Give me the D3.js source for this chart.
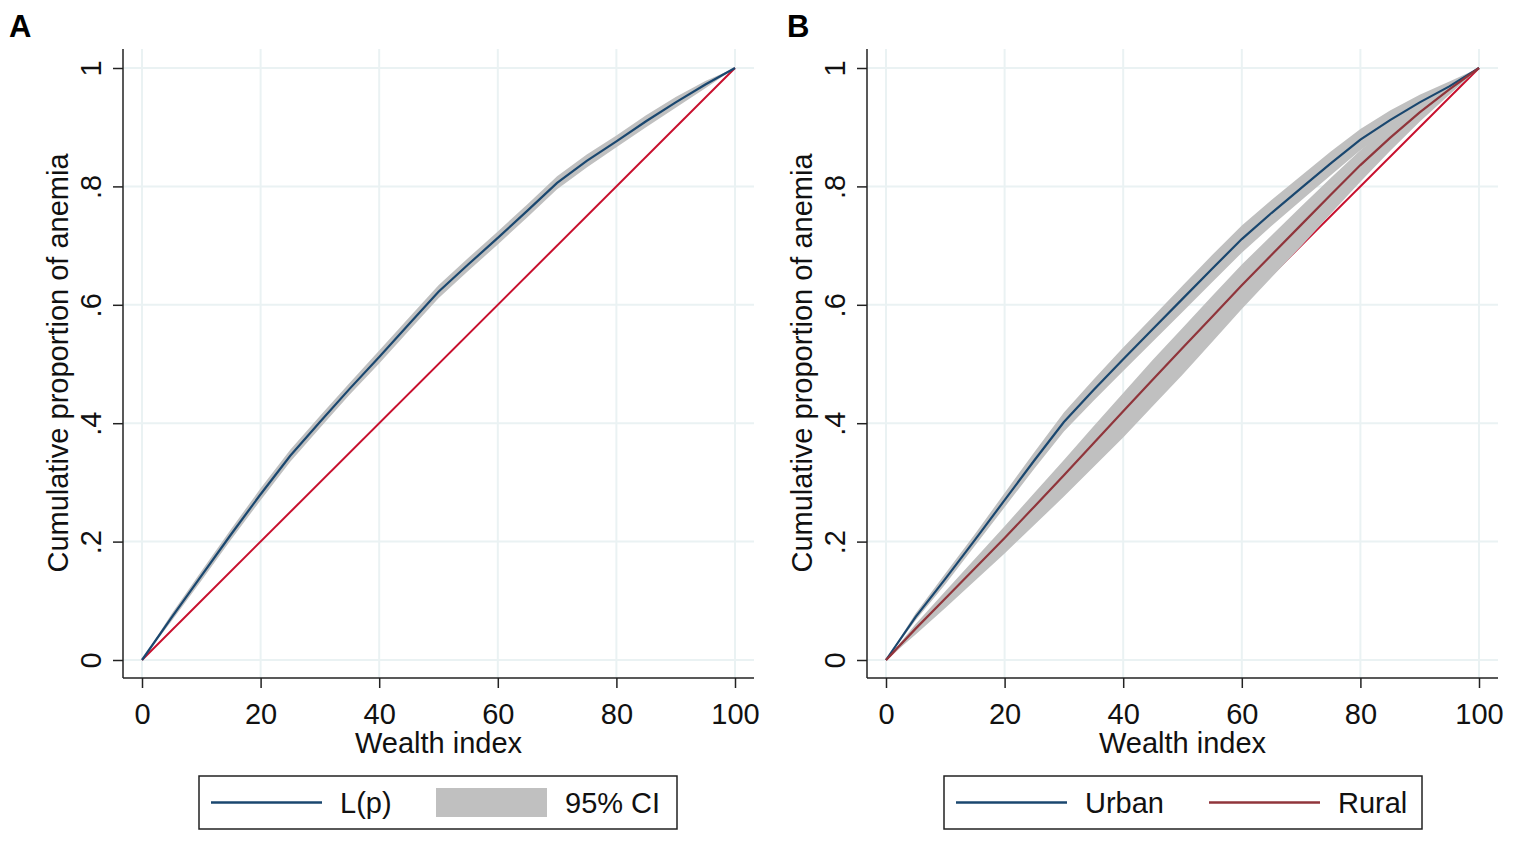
<!doctype html>
<html lang="en">
<head>
<meta charset="utf-8">
<title>Concentration curves of anemia by wealth index</title>
<style>
body { margin: 0; background: #fff; font-family: "Liberation Sans", Arial, sans-serif; }
</style>
</head>
<body>
<div id="chart"></div>
<script src="https://cdnjs.cloudflare.com/ajax/libs/d3/7.8.5/d3.min.js"></script>
<script>
// wealth index percentiles (x) shared by every curve
var wealth = [0, 5, 10, 15, 20, 25, 30, 35, 40, 45, 50, 55, 60, 65, 70, 75, 80, 85, 90, 95, 100];

// panel A: overall concentration curve L(p) and distance to its 95% CI bounds
var lpA     = [0, 0.072, 0.142, 0.212, 0.28, 0.345, 0.402, 0.458, 0.512, 0.567, 0.622, 0.668, 0.713, 0.759, 0.806, 0.843, 0.876, 0.91, 0.942, 0.972, 1];
var lpAUp   = [0, 0.006, 0.008, 0.009, 0.01, 0.01, 0.01, 0.01, 0.011, 0.011, 0.011, 0.011, 0.011, 0.011, 0.011, 0.011, 0.01, 0.01, 0.009, 0.006, 0];
var lpADown = [0, 0.006, 0.008, 0.009, 0.01, 0.01, 0.01, 0.01, 0.011, 0.011, 0.011, 0.011, 0.011, 0.011, 0.011, 0.011, 0.01, 0.01, 0.009, 0.006, 0];

// panel B: urban and rural curves with distance to CI bounds
var urban     = [0, 0.073, 0.137, 0.203, 0.27, 0.337, 0.402, 0.456, 0.508, 0.559, 0.61, 0.661, 0.711, 0.755, 0.797, 0.839, 0.879, 0.912, 0.942, 0.969, 1];
var urbanUp   = [0, 0.006, 0.009, 0.01, 0.012, 0.014, 0.016, 0.018, 0.02, 0.021, 0.022, 0.023, 0.023, 0.022, 0.021, 0.02, 0.018, 0.016, 0.013, 0.008, 0];
var urbanDown = [0, 0.006, 0.009, 0.01, 0.012, 0.014, 0.016, 0.018, 0.02, 0.021, 0.022, 0.023, 0.023, 0.022, 0.021, 0.02, 0.018, 0.016, 0.013, 0.008, 0];
var rural     = [0, 0.053, 0.104, 0.155, 0.206, 0.259, 0.312, 0.366, 0.42, 0.474, 0.527, 0.58, 0.633, 0.684, 0.735, 0.786, 0.836, 0.882, 0.925, 0.964, 1];
var ruralUp   = [0, 0.008, 0.012, 0.016, 0.02, 0.023, 0.026, 0.029, 0.031, 0.033, 0.034, 0.035, 0.035, 0.033, 0.031, 0.028, 0.025, 0.02, 0.015, 0.008, 0];
var ruralDown = [0, 0.01, 0.016, 0.021, 0.026, 0.031, 0.036, 0.04, 0.044, 0.045, 0.045, 0.043, 0.04, 0.038, 0.036, 0.032, 0.028, 0.022, 0.016, 0.009, 0];

var equality = [0, 1];
var equalityX = [0, 100];

var xTicks = [0, 20, 40, 60, 80, 100];
var yTicks = [0, 0.2, 0.4, 0.6, 0.8, 1];
var yTickLabels = ["0", ".2", ".4", ".6", ".8", "1"];

var navy = "#1a476f", maroon = "#90353b", red = "#c8102e", band = "#c0c0c0", grid = "#eaf2f3";

var svg = d3.select("#chart").append("svg")
    .attr("width", 1517)
    .attr("height", 842);

function drawPanel(opts) {
    var g = svg.append("g").attr("transform", "translate(" + opts.left + ",0)");
    var x = d3.scaleLinear().domain([0, 100]).range([19, 612]);
    var y = d3.scaleLinear().domain([0, 1]).range([660, 68]);

    // panel letter
    g.append("text")
        .attr("x", opts.letterX).attr("y", 37)
        .style("font-size", "31px").style("font-weight", "bold")
        .text(opts.letter);

    // grid
    g.append("g").selectAll("line").data(xTicks).join("line")
        .attr("x1", d => x(d)).attr("x2", d => x(d))
        .attr("y1", 49).attr("y2", 678)
        .attr("stroke", grid).attr("stroke-width", 2);
    g.append("g").selectAll("line").data(yTicks).join("line")
        .attr("x1", 0).attr("x2", 631)
        .attr("y1", d => y(d)).attr("y2", d => y(d))
        .attr("stroke", grid).attr("stroke-width", 2);

    // line of equality
    g.append("path")
        .datum(d3.zip(equalityX, equality))
        .attr("d", d3.line().x(d => x(d[0])).y(d => y(d[1])))
        .attr("fill", "none").attr("stroke", red).attr("stroke-width", 2);

    var area = d3.area()
        .x(d => x(d.w))
        .y0(d => y(d.v - d.dn))
        .y1(d => y(d.v + d.up));
    var line = d3.line().x(d => x(d.w)).y(d => y(d.v));

    opts.series.forEach(function(s) {
        var pts = wealth.map((w, i) => ({w: w, v: s.values[i], up: s.up[i], dn: s.down[i]}));
        s.pts = pts;
        g.append("path").datum(pts).attr("d", area).attr("fill", band);
    });
    opts.series.forEach(function(s) {
        g.append("path").datum(s.pts).attr("d", line)
            .attr("fill", "none").attr("stroke", s.color).attr("stroke-width", 2.2);
    });

    // axes
    var xAxis = g.append("g").attr("transform", "translate(0,678)")
        .call(d3.axisBottom(x).tickValues(xTicks).tickSize(10).tickSizeOuter(0));
    xAxis.select(".domain").remove();
    xAxis.selectAll(".tick line").attr("stroke", "#222").attr("stroke-width", 1.5);
    xAxis.selectAll(".tick text").attr("y", 46).attr("dy", null)
        .style("font-size", "29px").attr("fill", "#111").attr("font-family", null);
    g.append("line").attr("x1", 0).attr("x2", 631).attr("y1", 678).attr("y2", 678)
        .attr("stroke", "#222").attr("stroke-width", 1.5);

    var yAxis = g.append("g")
        .call(d3.axisLeft(y).tickValues(yTicks).tickSize(10).tickSizeOuter(0)
            .tickFormat((d, i) => yTickLabels[i]));
    yAxis.select(".domain").remove();
    yAxis.selectAll(".tick line").attr("stroke", "#222").attr("stroke-width", 1.5);
    yAxis.selectAll(".tick text")
        .attr("x", null).attr("dy", null)
        .attr("text-anchor", "middle")
        .attr("transform", "translate(-22,0) rotate(-90)")
        .style("font-size", "29px").attr("fill", "#111").attr("font-family", null);
    g.append("line").attr("x1", 0).attr("x2", 0).attr("y1", 49).attr("y2", 678)
        .attr("stroke", "#222").attr("stroke-width", 1.5);

    // titles
    g.append("text")
        .attr("x", x(50)).attr("y", 753).attr("text-anchor", "middle")
        .style("font-size", "29px").attr("fill", "#111")
        .text("Wealth index");
    g.append("text")
        .attr("transform", "translate(-55,363) rotate(-90)")
        .attr("text-anchor", "middle")
        .style("font-size", "29px").attr("fill", "#111")
        .text("Cumulative proportion of anemia");

    // legend
    var lg = g.append("g").attr("transform", "translate(" + opts.legendX + ",776)");
    lg.append("rect").attr("width", 478).attr("height", 53)
        .attr("fill", "#fff").attr("stroke", "#222").attr("stroke-width", 1.5);
    opts.legend.forEach(function(item, i) {
        var ox = 12 + i * 253;
        if (item.type === "band") {
            lg.append("rect").attr("x", ox - 28).attr("y", 12).attr("width", 111).attr("height", 29)
                .attr("fill", band);
        } else {
            lg.append("line").attr("x1", ox).attr("x2", ox + 111).attr("y1", 26.5).attr("y2", 26.5)
                .attr("stroke", item.color).attr("stroke-width", 2.5);
        }
        lg.append("text").attr("x", item.textX).attr("y", 37)
            .style("font-size", "29px").attr("fill", "#111")
            .text(item.label);
    });
}

drawPanel({
    left: 123, letter: "A", letterX: -114, legendX: 76,
    series: [{values: lpA, up: lpAUp, down: lpADown, color: navy}],
    legend: [
        {type: "line", color: navy, label: "L(p)", textX: 141},
        {type: "band", label: "95% CI", textX: 366}
    ]
});

drawPanel({
    left: 867, letter: "B", letterX: -80, legendX: 77,
    series: [
        {values: urban, up: urbanUp, down: urbanDown, color: navy},
        {values: rural, up: ruralUp, down: ruralDown, color: maroon}
    ],
    legend: [
        {type: "line", color: navy, label: "Urban", textX: 141},
        {type: "line", color: maroon, label: "Rural", textX: 394}
    ]
});
</script>
</body>
</html>
